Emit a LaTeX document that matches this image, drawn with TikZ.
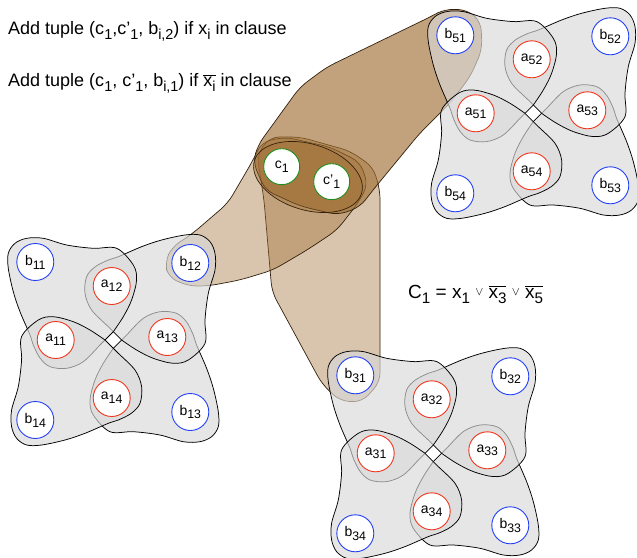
\documentclass[tikz,border=0pt]{standalone}
\usepackage{fontspec}
\setmainfont{Liberation Sans}
\usepackage{graphicx}
\newcommand\lsub[1]{\raisebox{-0.3em}{\scalebox{0.8}{#1}}}
\newcommand\vsub[1]{\raisebox{-0.28em}{\scalebox{0.88}{#1}}}
\newcommand\orsym{\raisebox{3pt}{\fontsize{13}{13}\selectfont$\vee$}}
\newcommand\pr{\symbol{39}}
\definecolor{bblue}{RGB}{35,65,245}
\definecolor{rred}{RGB}{240,55,30}
\definecolor{ggreen}{RGB}{30,140,30}
\definecolor{brn}{RGB}{160,110,50}
\definecolor{brnline}{RGB}{50,32,12}
\begin{document}
\begin{tikzpicture}[x=1pt,y=-1pt,
  gshape/.style={draw=black, line width=0.75pt, fill=black!15, fill opacity=0.65},
  hyper/.style={draw=brnline, line width=0.7pt, fill=brn, fill opacity=0.4, rounded corners=9pt},
  vert/.style={circle, fill=white, line width=0.9pt, minimum size=37pt, inner sep=0pt, font=\fontsize{14}{14}\selectfont},
  bv/.style={vert, draw=bblue},
  av/.style={vert, draw=rred},
  cv/.style={vert, draw=ggreen, minimum size=36pt},
  txt/.style={anchor=base west, inner sep=0pt, font=\fontsize{18}{20}\selectfont},
  pics/gadget/.style={code={
    \foreach \r in {180,-90,0,90}{
      \path[gshape, rotate=\r] plot[smooth, tension=0.55] coordinates {(-8.3,0) (-13.3,5) (-30,21.7) (-46.6,28.3) (-63.3,26.7) (-73.3,18) (-80,5) (-83.3,-5) (-93.3,-28.3) (-100,-48.3) (-105,-71.7) (-105,-86.7) (-98.3,-96.7) (-86.6,-101.7) (-70,-101.7) (-46.6,-95) (-20,-91.7) (3.4,-91.7) (20,-75) (23.3,-60) (18.3,-40) (10,-23.3) (0,-8.3)} -- cycle;
    }
  }}
]
\useasboundingbox (0,0) rectangle (637,557);

% clause hyperedges
\path[hyper] (257,155) -- (270,137) -- (300,137) -- (350,151) -- (373,167) -- (380,190) -- (380,382) -- (362,402) -- (340,401) -- (322,384) -- (272,292) -- (264,200) -- cycle;
\path[hyper] (165,262) -- (172,247) -- (192,234) -- (228,203) -- (252,162) -- (262,142) -- (285,137) -- (330,147) -- (360,162) -- (368,185) -- (358,203) -- (337,230) -- (307,250) -- (273,270) -- (240,280) -- (208,286) -- (188,286) -- (168,277) -- cycle;
\path[hyper, fill opacity=0.64] (253,162) -- (258,145) -- (300,87) -- (327,67) -- (430,17) -- (445,9) -- (468,10) -- (481,22) -- (482,50) -- (470,77) -- (450,103) -- (420,133) -- (373,190) -- (360,207) -- (338,215) -- (300,206) -- (265,190) -- cycle;
\path[draw=brnline, line width=0.7pt, fill=brn, fill opacity=0.4] (308,177) ellipse [x radius=56pt, y radius=33pt, rotate=-17];

% variable gadgets
\foreach \gx/\gy in {113.3/340, 433.3/453.3, 533.3/113.3} \pic at (\gx,\gy) {gadget};

% vertices
\foreach \g/\gx/\gy in {1/113.3/340, 3/433.3/453.3, 5/533.3/113.3}{
  \node[bv] (b\g1) at (\gx-78,\gy-78) {b\vsub{\g1}};
  \node[bv] (b\g2) at (\gx+77,\gy-77) {b\vsub{\g2}};
  \node[bv] (b\g3) at (\gx+77,\gy+72) {b\vsub{\g3}};
  \node[bv] (b\g4) at (\gx-78,\gy+80) {b\vsub{\g4}};
  \node[av] (a\g1) at (\gx-57.6,\gy) {a\vsub{\g1}};
  \node[av] (a\g2) at (\gx-1.6,\gy-54) {a\vsub{\g2}};
  \node[av] (a\g3) at (\gx+54,\gy-3) {a\vsub{\g3}};
  \node[av] (a\g4) at (\gx-1.6,\gy+58) {a\vsub{\g4}};
}
\node[cv] (c1) at (281.7,166.7) {c\vsub{1}};
\node[cv] (cp1) at (331.7,181.7) {c\pr\vsub{1}};

% texts
\node[txt] (t1) at (8,34) {Add tuple (c\lsub{1},c\pr\lsub{1}, b\lsub{i,2}) if x\lsub{i} in clause};
\node[txt] (t2) at (8,86) {Add tuple (c\lsub{1}, c\pr\lsub{1}, b\lsub{i,1}) if $\overline{\hbox{x\lsub{i}}}$ in clause};
\node[txt, font=\fontsize{19}{21}\selectfont] (f) at (408,298) {C\lsub{1} = x\lsub{1} \orsym\ $\overline{\hbox{x\lsub{3}}}$ \orsym\ $\overline{\hbox{x\lsub{5}}}$};
\end{tikzpicture}
\end{document}
